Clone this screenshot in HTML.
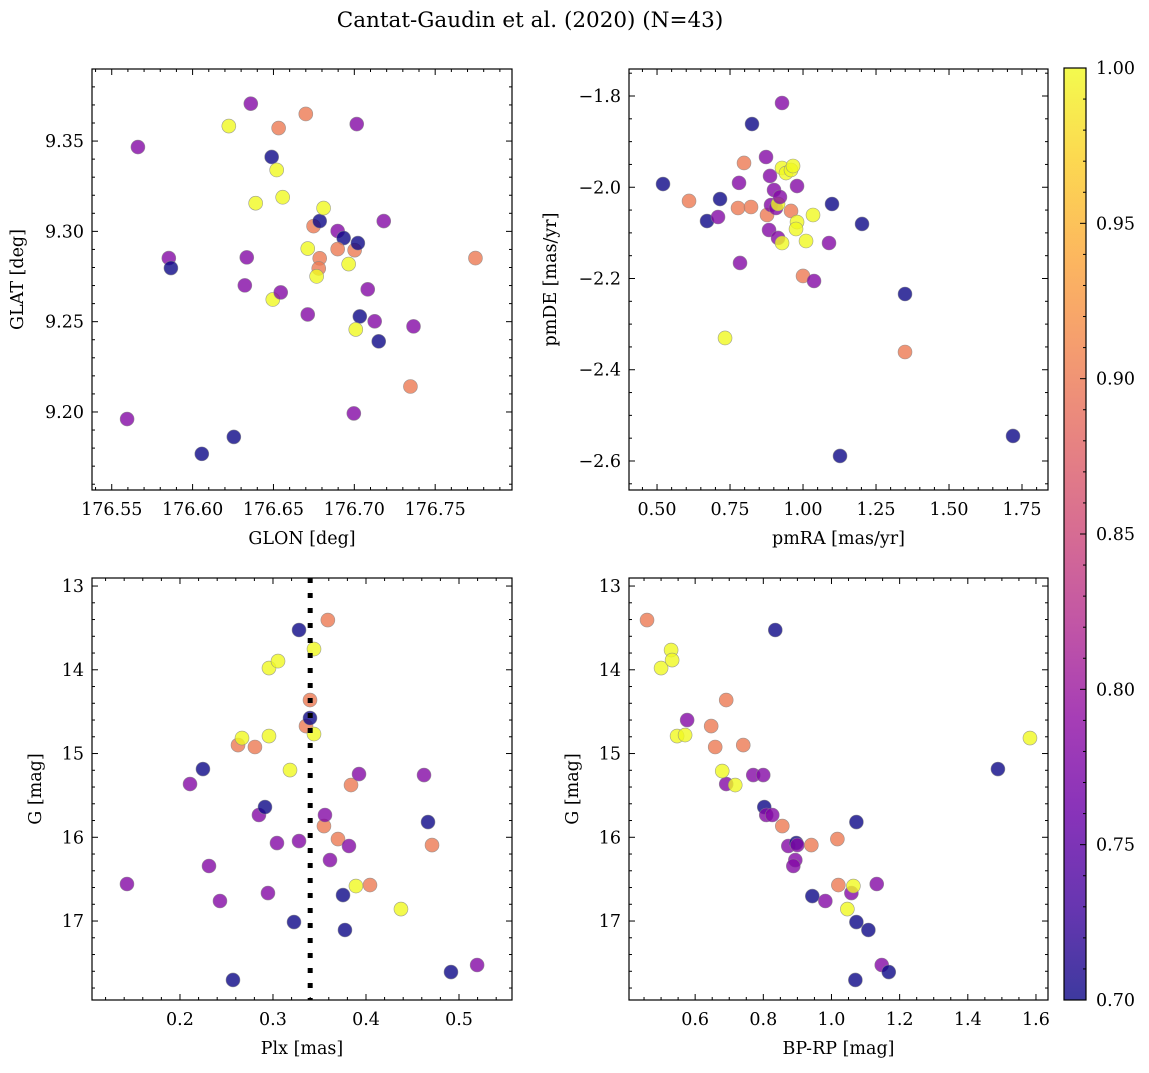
<!DOCTYPE html>
<html><head><meta charset="utf-8"><style>
html,body{margin:0;padding:0;background:#fff}
svg text{font-family:"DejaVu Serif","Liberation Serif",serif;fill:#000}
</style></head><body>
<svg id="fig" width="1149" height="1068" viewBox="0 0 1149 1068" xmlns="http://www.w3.org/2000/svg">
<defs>
<linearGradient id="plasma" x1="0" y1="1" x2="0" y2="0">
<stop offset="0" stop-color="#0d0887"/><stop offset="0.1" stop-color="#41049d"/><stop offset="0.2" stop-color="#6a00a8"/><stop offset="0.3" stop-color="#8f0da4"/><stop offset="0.4" stop-color="#b12a90"/><stop offset="0.5" stop-color="#cc4778"/><stop offset="0.6" stop-color="#e16462"/><stop offset="0.7" stop-color="#f2844b"/><stop offset="0.8" stop-color="#fca636"/><stop offset="0.9" stop-color="#fcce25"/><stop offset="1" stop-color="#f0f921"/>
</linearGradient>
</defs>
<text x="530" y="27" font-size="21.5" text-anchor="middle">Cantat-Gaudin et al. (2020) (N=43)</text>
</svg>
<script>
// Panel 1: GLON / GLAT
const glon1=[176.5662,176.5595,176.5853,176.5866,176.6057,176.6224,176.6255,176.6360,176.6335,176.6323,176.6390,176.6489,176.6520,176.6496,176.6532,176.6557,176.6545,176.6700,176.6712,176.6712,176.6748,176.6786,176.6786,176.6780,176.6767,176.6810,176.6897,176.6934,176.6897,176.6965,176.7002,176.7022,176.7015,176.7034,176.7009,176.6997,176.7083,176.7126,176.7151,176.7182,176.7347,176.7366,176.7749];
const glat1=[9.3467,9.1961,9.2852,9.2797,9.1768,9.3583,9.1862,9.3707,9.2856,9.2701,9.3156,9.3412,9.334,9.2623,9.3572,9.3189,9.2662,9.365,9.254,9.2905,9.3029,9.3057,9.2851,9.2795,9.2751,9.3129,9.3002,9.2963,9.2902,9.2819,9.2896,9.2935,9.3594,9.2529,9.2457,9.1992,9.2679,9.2502,9.2391,9.3057,9.2141,9.2474,9.2852];
const prob1=[0.78,0.78,0.78,0.70,0.70,1.0,0.70,0.78,0.78,0.78,1.0,0.70,1.0,1.0,0.90,1.0,0.78,0.90,0.78,1.0,0.90,0.70,0.90,0.90,1.0,1.0,0.78,0.70,0.90,1.0,0.90,0.70,0.78,0.70,1.0,0.78,0.78,0.78,0.70,0.78,0.90,0.78,0.90];
// Panel 2: pmRA / pmDE
const pmra2=[0.5205,0.6096,0.7158,0.6712,0.7089,0.7329,0.7774,0.7808,0.7842,0.7979,0.8219,0.8253,0.8733,0.8767,0.8836,0.887,0.8904,0.9007,0.9075,0.9144,0.9144,0.9281,0.9281,0.9281,0.9418,0.9589,0.9658,0.9589,0.9795,0.9795,0.976,1.0,1.0103,1.0342,1.0377,1.089,1.0993,1.1267,1.2021,1.3493,1.3493,1.7192,0.921];
const pmde2=[-1.9929,-2.0301,-2.0258,-2.074,-2.0652,-2.3304,-2.0455,-1.9904,-2.166,-1.9468,-2.0433,-1.8614,-1.9337,-2.0608,-2.0937,-1.9753,-2.0389,-2.006,-2.0455,-2.1112,-2.0367,-2.1222,-1.8153,-1.9578,-1.9688,-1.9622,-1.9534,-2.052,-1.9973,-2.0762,-2.0915,-2.1945,-2.1178,-2.0608,-2.2055,-2.1222,-2.0367,-2.589,-2.0805,-2.234,-2.3611,-2.5452,-2.0214];
const prob2=[0.70,0.90,0.70,0.70,0.78,1.0,0.90,0.78,0.78,0.90,0.90,0.70,0.78,0.90,0.78,0.78,0.78,0.78,0.78,0.78,1.0,1.0,0.78,1.0,1.0,1.0,1.0,0.90,0.78,1.0,1.0,0.90,1.0,1.0,0.78,0.78,0.70,0.70,0.70,0.70,0.90,0.70,0.78];
// Panel 3: Plx / G
const plx3=[0.143,0.2108,0.2247,0.2312,0.243,0.257,0.2624,0.2667,0.2806,0.2849,0.2914,0.2946,0.2957,0.2957,0.3054,0.3043,0.3183,0.3226,0.328,0.328,0.3355,0.3398,0.3398,0.3441,0.3441,0.3548,0.3559,0.359,0.3613,0.3699,0.3753,0.3774,0.3817,0.3839,0.3892,0.3925,0.4043,0.4376,0.4624,0.4667,0.471,0.4914,0.5195];
const g3=[16.558,15.364,15.185,16.343,16.761,17.704,14.899,14.815,14.922,15.734,15.639,16.666,14.791,13.979,13.896,16.069,15.197,17.012,16.045,13.525,14.672,14.361,14.576,13.752,14.767,15.866,15.734,13.406,16.272,16.021,16.69,17.107,16.104,15.376,16.582,15.245,16.57,16.857,15.257,15.818,16.093,17.609,17.525];
const prob3=[0.78,0.78,0.70,0.78,0.78,0.70,0.90,1.0,0.90,0.78,0.70,0.78,1.0,1.0,1.0,0.78,1.0,0.70,0.78,0.70,0.90,0.90,0.70,1.0,1.0,0.90,0.78,0.90,0.78,0.90,0.70,0.70,0.78,0.90,1.0,0.78,0.90,1.0,0.78,0.70,0.90,0.70,0.78];
const plxRef=[0.34];
// Panel 4: BP-RP / G
const bprp4=[0.4588,0.5000,0.5294,0.5324,0.5470,0.5705,0.5765,0.6470,0.6588,0.6911,0.6911,0.6794,0.7176,0.7411,0.7704,0.7998,0.8028,0.8086,0.8351,0.8263,0.8557,0.8733,0.8968,0.8997,0.9409,0.8939,0.8880,0.9438,0.9820,1.0173,1.0202,1.0466,1.0584,1.0643,1.0731,1.0731,1.0701,1.1083,1.1328,1.1475,1.1681,1.4884,1.5824];
const g4=[13.406,13.979,13.764,13.884,14.791,14.779,14.6,14.672,14.922,14.361,15.364,15.209,15.376,14.899,15.257,15.257,15.639,15.734,13.525,15.734,15.866,16.104,16.069,16.093,16.093,16.272,16.343,16.702,16.761,16.021,16.57,16.857,16.666,16.582,15.818,17.012,17.704,17.107,16.558,17.525,17.609,15.185,14.815];
const prob4=[0.90,1.0,1.0,1.0,1.0,1.0,0.78,0.90,0.90,0.90,0.78,1.0,1.0,0.90,0.78,0.78,0.70,0.78,0.70,0.78,0.90,0.78,0.70,0.78,0.90,0.78,0.78,0.70,0.78,0.90,0.90,1.0,0.78,1.0,0.70,0.70,0.70,0.70,0.78,0.78,0.70,0.70,1.0];
const cbTicks=["0.70","0.75","0.80","0.85","0.90","0.95","1.00"];

const NS="http://www.w3.org/2000/svg";
const svg=document.getElementById('fig');
const FS=17.5;
function mk(tag,attrs,parent){const e=document.createElementNS(NS,tag);for(const k in attrs)e.setAttribute(k,attrs[k]);(parent||svg).appendChild(e);return e;}
const stops=[[0,[13,8,135]],[0.1,[65,4,157]],[0.2,[106,0,168]],[0.3,[143,13,164]],[0.4,[177,42,144]],[0.5,[204,71,120]],[0.6,[225,100,98]],[0.7,[242,132,75]],[0.8,[252,166,54]],[0.9,[252,206,37]],[1,[240,249,33]]];
function plasma(t){t=Math.max(0,Math.min(1,t));for(let i=1;i<stops.length;i++){if(t<=stops[i][0]){const a=stops[i-1],b=stops[i];const f=(t-a[0])/(b[0]-a[0]);const c=a[1].map((v,j)=>Math.round(v+(b[1][j]-v)*f));return `rgb(${c[0]},${c[1]},${c[2]})`;}}return 'rgb(240,249,33)';}
function fmt(v,d){return (v<0?'\u2212':'')+Math.abs(v).toFixed(d);}

function panel(o){
  const g=mk('g',{});
  
  
  const sx=v=>o.x0+(v-o.xmin)/(o.xmax-o.xmin)*(o.x1-o.x0);
  const sy=v=>o.yinv? o.y0+(v-o.ymin)/(o.ymax-o.ymin)*(o.y1-o.y0) : o.y1-(v-o.ymin)/(o.ymax-o.ymin)*(o.y1-o.y0);
  const pts=mk('g',{},g);
  
  
  for(let i=0;i<o.xs.length;i++){
    const c=mk('circle',{cx:sx(o.xs[i]),cy:sy(o.ys[i]),r:7,fill:plasma((o.ps[i]-0.7)/0.3),'fill-opacity':0.8,stroke:'#888','stroke-width':0.6,'stroke-opacity':0.8},pts);
    
    
  }
  if(o.vline){for(const v of o.vline){const l=mk('line',{x1:sx(v),x2:sx(v),y1:o.y0,y2:o.y1,stroke:'#000','stroke-width':5,'stroke-dasharray':'5 10'},g);
    
    }}
  const fr=mk('rect',{x:o.x0,y:o.y0,width:o.x1-o.x0,height:o.y1-o.y0,fill:'none',stroke:'#000','stroke-width':1.2},g);
  
  
  const tk=mk('g',{stroke:'#000','stroke-width':1},g);
  
  
  const n0=Math.ceil(o.xmin/o.xminor-1e-6),n1=Math.floor(o.xmax/o.xminor+1e-6);
  for(let n=n0;n<=n1;n++){const v=n*o.xminor;const maj=Math.abs(v/o.xmajor-Math.round(v/o.xmajor))<1e-6;const L=maj?6:3;const x=sx(v);
    mk('line',{x1:x,x2:x,y1:o.y1,y2:o.y1-L},tk);mk('line',{x1:x,x2:x,y1:o.y0,y2:o.y0+L},tk);
    if(maj){const t=mk('text',{x:x,y:o.y1+25,'font-size':FS,'text-anchor':'middle',stroke:'none'},g);t.textContent=fmt(v,o.xd);
      
      }}
  const m0=Math.ceil(o.ymin/o.yminor-1e-6),m1=Math.floor(o.ymax/o.yminor+1e-6);
  for(let n=m0;n<=m1;n++){const v=n*o.yminor;const maj=Math.abs(v/o.ymajor-Math.round(v/o.ymajor))<1e-6;const L=maj?6:3;const y=sy(v);
    mk('line',{x1:o.x0,x2:o.x0+L,y1:y,y2:y},tk);mk('line',{x1:o.x1,x2:o.x1-L,y1:y,y2:y},tk);
    if(maj){const t=mk('text',{x:o.x0-8,y:y+6,'font-size':FS,'text-anchor':'end',stroke:'none'},g);t.textContent=fmt(v,o.yd);
      
      }}
  const xl=mk('text',{x:(o.x0+o.x1)/2,y:o.y1+54,'font-size':FS,'text-anchor':'middle'},g);xl.textContent=o.xlabel;
  
  
  const yl=mk('text',{x:o.ylx,y:(o.y0+o.y1)/2,'font-size':FS,'text-anchor':'middle',transform:`rotate(-90 ${o.ylx} ${(o.y0+o.y1)/2})`},g);yl.textContent=o.ylabel;
  
  
}
panel({name:'glon-glat-panel',x0:92,x1:512,y0:69,y1:490,xmin:176.5378,xmax:176.7975,ymin:9.1568,ymax:9.3899,xmajor:0.05,xminor:0.01,ymajor:0.05,yminor:0.01,xd:2,yd:2,xs:glon1,ys:glat1,ps:prob1,xlabel:'GLON [deg]',ylabel:'GLAT [deg]',ylx:23});
panel({name:'pm-panel',x0:629,x1:1048,y0:69,y1:490,xmin:0.404,xmax:1.839,ymin:-2.6636,ymax:-1.7408,xmajor:0.25,xminor:0.05,ymajor:0.2,yminor:0.05,xd:2,yd:1,xs:pmra2,ys:pmde2,ps:prob2,xlabel:'pmRA [mas/yr]',ylabel:'pmDE [mas/yr]',ylx:556});
panel({name:'plx-g-panel',x0:92,x1:512,y0:578,y1:1000,xmin:0.1054,xmax:0.557,ymin:12.904,ymax:17.943,yinv:true,xmajor:0.1,xminor:0.02,ymajor:1,yminor:0.2,xd:1,yd:0,xs:plx3,ys:g3,ps:prob3,vline:plxRef,xlabel:'Plx [mas]',ylabel:'G [mag]',ylx:41});
panel({name:'cmd-panel',x0:629,x1:1048,y0:578,y1:1000,xmin:0.4059,xmax:1.6353,ymin:12.904,ymax:17.943,yinv:true,xmajor:0.2,xminor:0.05,ymajor:1,yminor:0.2,xd:1,yd:0,xs:bprp4,ys:g4,ps:prob4,xlabel:'BP-RP [mag]',ylabel:'G [mag]',ylx:578});

// colorbar
const cb=mk('g',{});


const cbr=mk('rect',{x:1064,y:68,width:22,height:932,fill:'url(#plasma)','fill-opacity':0.8,stroke:'#000','stroke-width':1.2},cb);


const cy=v=>1000-(v-0.7)/0.3*932;
for(const s of cbTicks){const v=parseFloat(s);const y=cy(v);
  mk('line',{x1:1086,x2:1080,y1:y,y2:y,stroke:'#000'},cb);
  const t=mk('text',{x:1096,y:y+6,'font-size':FS},cb);t.textContent=s;
  
  }
for(let n=70;n<=100;n++){if(n%5){const y=cy(n/100);mk('line',{x1:1086,x2:1083,y1:y,y2:y,stroke:'#000'},cb);}}
</script>
</body></html>
